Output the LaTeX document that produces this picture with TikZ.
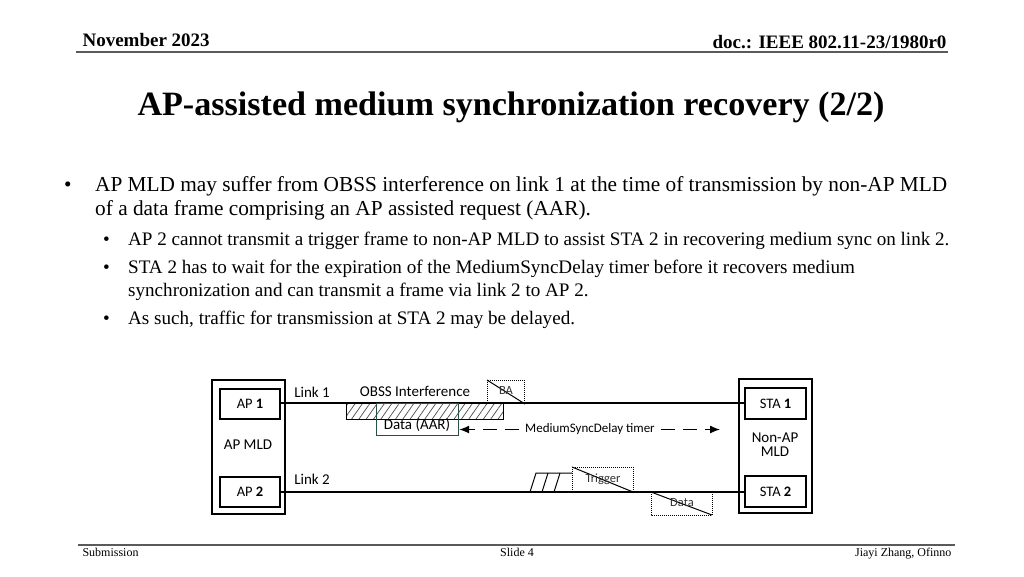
\documentclass[tikz,border=0pt]{standalone}
\usepackage{fontspec}
\setmainfont{Liberation Serif}
\newfontfamily\diagfont{Carlito}
\usetikzlibrary{arrows.meta,patterns.meta}
\definecolor{rulegray}{RGB}{90,90,90}
\definecolor{datateal}{RGB}{40,80,70}
\tikzset{
  hdr/.style={font=\fontsize{19}{22}\selectfont\bfseries, anchor=base},
  ftr/.style={font=\fontsize{12}{14}\selectfont, anchor=base},
  main/.style={font=\fontsize{21.3}{24}\selectfont, anchor=base west, inner sep=0pt},
  sub/.style={font=\fontsize{19.1}{21}\selectfont, anchor=base west, inner sep=0pt},
  boxA/.style={draw, line width=1.2pt, minimum width=60pt, minimum height=30pt, inner sep=0pt, font=\diagfont\fontsize{14.5}{16}\selectfont},
  outerbox/.style={draw, line width=1.2pt, minimum width=73pt, minimum height=134pt, inner sep=0pt},
  dlabel/.style={font=\diagfont\fontsize{15}{17}\selectfont, inner sep=0pt},
  tiny/.style={font=\diagfont\fontsize{12.5}{13}\selectfont, inner sep=0pt, text=black!80},
  dotbox/.style={draw, densely dotted, line width=1pt},
  link/.style={line width=1.2pt},
  timerarrow/.style={line width=1.3pt, dash pattern=on 14pt off 8pt, -{Latex[length=10pt,width=8pt]}},
}
\begin{document}
\begin{tikzpicture}[x=1pt,y=-1pt]
\useasboundingbox[fill=white] (0,0) rectangle (1024,576);
% header
\node[hdr, anchor=base west] (date) at (79,46) {November 2023};
\node[hdr, anchor=base east] (doc) at (950,48.5) {doc.: IEEE 802.11-23/1980r0};
\draw[rulegray, line width=1.5pt] (76,52) -- (948,52);
% title
\node[font=\fontsize{34.1}{38}\selectfont\bfseries, anchor=base] (title) at (511,115) {AP-assisted medium synchronization recovery (2/2)};
% body
\node[main] (b1) at (64,191) {\textbullet};
\node[main] (t1) at (95,191) {AP MLD may suffer from OBSS interference on link 1 at the time of transmission by non-AP MLD};
\node[main] (t1b) at (95,215) {of a data frame comprising an AP assisted request (AAR).};
\node[sub] (b2) at (103,245) {\textbullet};
\node[sub] (t2) at (128,245) {AP 2 cannot transmit a trigger frame to non-AP MLD to assist STA 2 in recovering medium sync on link 2.};
\node[sub] (b3) at (103,273) {\textbullet};
\node[sub] (t3) at (128,273) {STA 2 has to wait for the expiration of the MediumSyncDelay timer before it recovers medium};
\node[sub] (t3b) at (128,296) {synchronization and can transmit a frame via link 2 to AP 2.};
\node[sub] (b4) at (103,324) {\textbullet};
\node[sub] (t4) at (128,324) {As such, traffic for transmission at STA 2 may be delayed.};
% footer
\draw[rulegray, line width=1.5pt] (78,545) -- (955,545);
\node[ftr, anchor=base west] (sub) at (79,556) {Submission};
\node[ftr] (slide) at (517,556) {Slide 4};
\node[ftr, anchor=base east] (auth) at (955,556) {Jiayi Zhang, Ofinno};
% diagram: AP MLD
\node[outerbox] (apmld) at (248.5,447) {};
\node[boxA] (ap1) at (250,404) {AP \textbf{1}};
\node[boxA] (ap2) at (250,492) {AP \textbf{2}};
\node[dlabel] (apmldl) at (248,445) {AP MLD};
% Non-AP MLD
\node[outerbox] (stamld) at (775.5,446) {};
\node[boxA, minimum width=61pt, minimum height=31pt] (sta1) at (775.5,403.5) {STA \textbf{1}};
\node[boxA, minimum width=61pt, minimum height=31pt] (sta2) at (775.5,491.5) {STA \textbf{2}};
\node[dlabel, align=center] (stamldl) at (775,445) {Non-AP\\[-3pt]MLD};
% links
\draw[link] (ap1.east |- 0,403) -- (sta1.west |- 0,403);
\draw[link] (ap2.east |- 0,492) -- (sta2.west |- 0,492);
\node[dlabel] (l1) at (312,392) {Link 1};
\node[dlabel] (l2) at (312,479) {Link 2};
% OBSS interference and data
\fill[pattern={Lines[angle=55,distance=6pt,line width=0.7pt]}, pattern color=black!70] (346,403) rectangle (503,419);
\draw[line width=1pt] (346,403) rectangle (503,419);
\node[draw=datateal, line width=1.2pt, minimum width=82pt, minimum height=32pt, anchor=north west, inner sep=0pt] (data) at (376,403) {};
\node[dlabel] (datal) at (417,425.5) {Data (AAR)};
\node[dlabel] (obss) at (415,391) {OBSS Interference};
% BA
\node[dotbox, minimum width=37pt, minimum height=23pt, anchor=north west, inner sep=0pt] (ba) at (487,380) {};
\draw[line width=1pt] (ba.north west) -- (ba.south east);
\node[tiny] (bal) at (506,390) {BA};
% MediumSyncDelay timer
\node[font=\diagfont\fontsize{13}{15}\selectfont, inner xsep=6pt, inner ysep=1pt] (timer) at (590,429.5) {MediumSyncDelay timer};
\coordinate (tend) at (720,429.5);
\draw[timerarrow] (timer.west) -- (data.east |- timer.west);
\draw[timerarrow] (timer.east) -- (tend);
% link 2 backoff slants and trigger
\draw[line width=1pt] (530,492) -- (536,473) -- (572,473);
\draw[line width=1pt] (542,492) -- (548,473);
\draw[line width=1pt] (554,492) -- (560,473);
\draw[dotbox] (572,492) -- (572,467) -- (633,467) -- (633,492);
\coordinate (trigtl) at (572,467);
\coordinate (trigbr) at (633,492);
\draw[line width=1pt] (trigtl) -- (trigbr);
\node[tiny] (trigl) at (603,479) {Trigger};
% data on link 2
\draw[dotbox] (651,492) -- (651,515) -- (712,515) -- (712,492);
\coordinate (dtl) at (651,492);
\coordinate (dbr) at (712,515);
\draw[line width=1pt] (dtl) -- (dbr);
\node[tiny] (dl) at (682,503) {Data};
\end{tikzpicture}
\end{document}
